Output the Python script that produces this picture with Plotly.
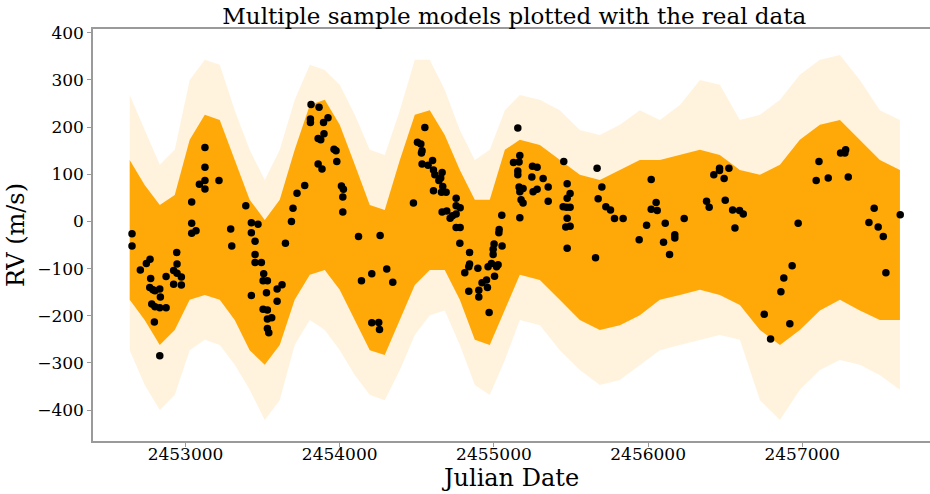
import plotly.graph_objects as go

# ---- real data ----
jd = [
2452653,2452653,2452707,2452746,2452770,2452774,2452768,2452789,2452802,2452833,
2452837,2452781,2452802,2452833,2452874,2452798,2452833,2452874,2452923,2452923,
2452945,2452943,2452945,2452973,2452973,2453040,2453040,2453040,2453068,2453090,
2453126,2453126,2453126,2453126,2453217,2453293,2453300,2453391,2453427,2453470,
2453427,2453451,2453451,2453451,2453492,2453427,2453507,2453503,2453531,2453525,
2453594,2453626,2453594,2453503,2453531,2453531,2453559,2453531,2453540,2453648,
2453687,2453697,2453723,2453773,2453810,2453814,2453810,2453860,2453860,2453866,
2453895,2453924,2453877,2453898,2453885,2453963,2453976,2453981,2454011,2454024,
2454020,2454020,2454122,2454141,2454208,2454262,2454305,2454344,2454208,2454253,
2454258,2454478,2454552,2454504,2454526,2454534,2454530,2454534,2454573,2454602,
2454608,2454617,2454664,2454655,2454643,2454608,2454668,2454660,2454690,2454755,
2454755,2454781,2454664,2454694,2454755,2454716,2454731,2454755,2454781,2454779,
2454842,2454842,2454837,2454811,2454896,2454923,2454952,2454958,2454837,2454902,
2454902,2454969,2454962,2454984,2454995,2454995,2455001,2455032,2455034,2455053,
2455027,2455004,2455017,2455051,2455127,
2455155,2455168,2455163,2455155,2455155,2455163,2455189,2455168,2455176,2455189,
2455168,2455250,2455280,2455246,2455319,2455280,2455254,2455352,2455352,2455453,
2455475,2455494,2455475,2455449,2455471,2455494,2455475,2455466,2455494,2455475,
2455669,2455700,2455676,2455659,2455726,2455756,2455782,2455838,2455942,2455990,
2456020,2456020,2456052,2456059,2456111,2456100,2456139,2456173,2456173,2456234,
2456379,2456396,
2456426,2456463,2456463,2456524,2456493,2456500,2456548,2456593,2456617,2456563,
2456973,2456934,2456880,2456861,2456753,2456794,2456919,2457108,2457090,2457168,
2457248,2457276,2457281,2457298,2457466,2457432,2457492,2457525,2457542,2457635,
]
rv = [
-26,-52,-103,-89,-80,-121,-140,-145,-147,-143,
-160,-175,-181,-183,-183,-213,-285,-117,-133,-104,
-90,-66,-110,-118,-135,41,-4,-25,-20,79,
87,69,115,157,87,-16,-52,33,-3,-6,
-24,-42,-70,-87,-87,-157,-111,-126,-126,-151,
-143,-134,-169,-186,-188,-207,-204,-227,-236,-46,
0,28,60,76,210,248,217,176,122,242,
210,220,173,186,111,153,150,127,75,68,
52,20,-32,-126,-111,-30,-101,-129,-215,-214,
-229,39,199,168,164,150,145,122,119,129,
109,99,104,92,87,65,74,62,62,49,
33,29,20,22,16,7,12,-13,-13,-46,
-66,-90,-96,-109,-99,-130,-124,-140,-148,-146,
-160,-193,-96,-89,-70,-59,-48,-24,-17,-52,
-92,-116,-96,13,125,
198,140,126,107,99,73,70,63,46,39,
8,117,115,94,91,68,63,73,43,127,
80,59,49,31,30,30,7,-12,-10,-57,
113,73,48,-77,31,24,6,6,-39,-8,
89,26,40,23,-4,-44,-70,-28,-35,6,
43,30,
99,113,108,113,91,45,24,23,16,-14,
-4,-94,-120,-149,-197,-249,-217,127,87,92,
145,145,152,94,28,-2,-12,-32,-109,14,
]

# ---- envelope of the sample models ----
env_jd = [2452638,2452735,2452833,2452930,2453027,2453125,2453222,2453319,2453416,2453514,
          2453611,2453708,2453806,2453903,2454000,2454098,2454195,2454292,2454390,2454487,
          2454584,2454681,2454779,2454876,2454973,2455071,2455168,2455298,2455427,2455557,
          2455687,2455817,2455946,2456076,2456206,2456336,2456465,2456595,2456725,2456855,
          2456984,2457114,2457244,2457373,2457503,2457633]
faint_top = [268,194,120,152,300,343,332,236,152,88,
             152,258,332,321,290,226,152,141,236,343,
             343,279,194,130,152,236,268,258,236,194,
             183,205,236,215,247,300,290,215,226,258,
             311,343,353,300,236,215]
dense_top = [130,77,35,56,173,226,215,130,46,3,
             46,152,247,258,205,120,35,24,130,226,
             236,183,109,46,46,152,173,162,130,99,
             88,109,130,130,141,152,141,109,99,120,
             173,205,215,173,130,109]
dense_bot = [-166,-209,-262,-230,-166,-156,-166,-209,-273,-304,
             -262,-166,-113,-103,-145,-209,-273,-283,-209,-135,
             -103,-103,-166,-251,-262,-189,-113,-124,-166,-209,
             -230,-220,-199,-166,-156,-145,-156,-177,-230,-262,
             -230,-189,-166,-189,-209,-209]
faint_bot = [-273,-347,-400,-368,-273,-251,-262,-304,-357,-421,
             -379,-262,-209,-230,-273,-326,-368,-379,-315,-241,
             -199,-189,-262,-347,-368,-294,-209,-220,-273,-315,
             -347,-336,-304,-273,-262,-251,-241,-251,-379,-421,
             -357,-315,-294,-304,-326,-357]

title_text = "Multiple sample models plotted with the real data"
x_ticks = [2453000, 2454000, 2455000, 2456000, 2457000]
y_ticks = [-400, -300, -200, -100, 0, 100, 200, 300, 400]

FONT = "DejaVu Serif"
fig = go.Figure()

def band(top, bot, color):
    return go.Scatter(
        x=env_jd + env_jd[::-1],
        y=top + bot[::-1],
        fill="toself", fillcolor=color, mode="lines",
        line=dict(width=0), hoverinfo="skip", showlegend=False)

fig.add_trace(band(faint_top, faint_bot, "rgba(255,165,0,0.13)"))
fig.add_trace(band(dense_top, dense_bot, "rgba(255,165,0,0.96)"))

fig.add_trace(go.Scatter(
    x=jd, y=rv, mode="markers",
    marker=dict(color="black", size=7.5, line=dict(width=0)),
    showlegend=False))

axis_common = dict(
    showgrid=False, zeroline=False, showline=True, linecolor="#9a9a9a",
    linewidth=1.5, ticks="outside", ticklen=4, tickcolor="#9a9a9a",
    tickfont=dict(family=FONT, size=17, color="black"))

fig.update_layout(
    width=930, height=494,
    margin=dict(l=93, r=0, t=29, b=53),
    paper_bgcolor="white", plot_bgcolor="white",
    title=dict(text=title_text, x=0.553, xanchor="center", y=0.968, yanchor="middle",
               font=dict(family=FONT, size=23, color="black")),
    xaxis=dict(range=[2452400, 2457828], tickvals=x_ticks,
               ticktext=[str(v) for v in x_ticks], mirror=True,
               title=dict(text="Julian Date", font=dict(family=FONT, size=24, color="black"),
                          standoff=0),
               **axis_common),
    yaxis=dict(range=[-465.5, 408], tickvals=y_ticks,
               title=dict(text="RV (m/s)", font=dict(family=FONT, size=24, color="black"),
                          standoff=6),
               **axis_common),
)
fig.update_xaxes(ticklabelstandoff=-7)

fig.write_html("out.html", config={"displayModeBar": False},
               post_script="document.body.style.margin='0';document.body.style.overflow='hidden';")
